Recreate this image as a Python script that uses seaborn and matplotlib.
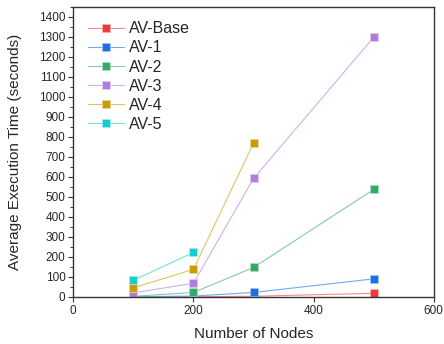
import numpy as np
import pandas as pd
import matplotlib.pyplot as plt
import matplotlib.colors as mcolors
from matplotlib.lines import Line2D
from matplotlib.ticker import MultipleLocator
import seaborn as sns

nodes = [100, 200, 300, 500]
av_base = [0.5, 1, 3, 18]
av_1 = [1, 4, 22, 90]
av_2 = [3, 22, 147, 537]
av_3 = [20, 68, 592, 1298]
av_4 = [45, 138, 768]
av_5 = [83, 222]

series = {"AV-Base": av_base, "AV-1": av_1, "AV-2": av_2,
          "AV-3": av_3, "AV-4": av_4, "AV-5": av_5}
colors = ["#ec3a3f", "#1b6fe3", "#33a96a", "#b07ce0", "#c99d00", "#19cccc"]

rows = []
for name, vals in series.items():
    for x, y in zip(nodes, vals):
        rows.append({"nodes": x, "time": y, "model": name})
df = pd.DataFrame(rows)

sns.set_style("ticks")
plt.rcParams['font.family'] = ['Liberation Sans', 'DejaVu Sans']

fig, ax = plt.subplots(figsize=(4.44, 3.44), dpi=100)
fig.subplots_adjust(left=0.165, right=0.977, top=0.98, bottom=0.137)

sns.lineplot(data=df, x="nodes", y="time", hue="model", palette=colors,
             marker="s", markersize=5.5, linewidth=0.8, dashes=False,
             legend=False, ax=ax)

def lighten(c, amt=0.4):
    r, g, b = mcolors.to_rgb(c)
    return (r + (1 - r) * amt, g + (1 - g) * amt, b + (1 - b) * amt)

for line, c in zip(ax.lines, colors):
    line.set_color(lighten(c))
    line.set_markerfacecolor(c)
    line.set_markeredgecolor(lighten(c, 0.6))
    line.set_markeredgewidth(0.6)

handles = [Line2D([], [], color=lighten(c), lw=0.8, marker="s", markersize=5.5,
                  markerfacecolor=c, markeredgecolor=lighten(c, 0.6),
                  markeredgewidth=0.6) for c in colors]
ax.legend(handles, list(series.keys()), loc="upper left", frameon=False,
          fontsize=11.5, handlelength=2.3, handletextpad=0.3,
          labelspacing=0.26, bbox_to_anchor=(0.0, 1.0))

ax.set_xlim(0, 600)
ax.set_ylim(0, 1450)
ax.xaxis.set_major_locator(MultipleLocator(200))
ax.yaxis.set_major_locator(MultipleLocator(100))
ax.yaxis.set_minor_locator(MultipleLocator(50))
ax.set_xlabel("Number of Nodes", fontsize=11)
ax.set_ylabel("Average Execution Time (seconds)", fontsize=11)
ax.yaxis.set_label_coords(-0.141, 0.5)
ax.xaxis.set_label_coords(0.5, -0.105)
ax.tick_params(axis="both", which="major", labelsize=8.5, length=3.5,
               width=0.8, color="#333333", pad=2)
ax.tick_params(axis="y", which="minor", length=2, width=0.7, color="#333333")
for s in ax.spines.values():
    s.set_visible(True)
    s.set_color("#333333")
    s.set_linewidth(1.0)

fig.savefig("out.png", dpi=100)
